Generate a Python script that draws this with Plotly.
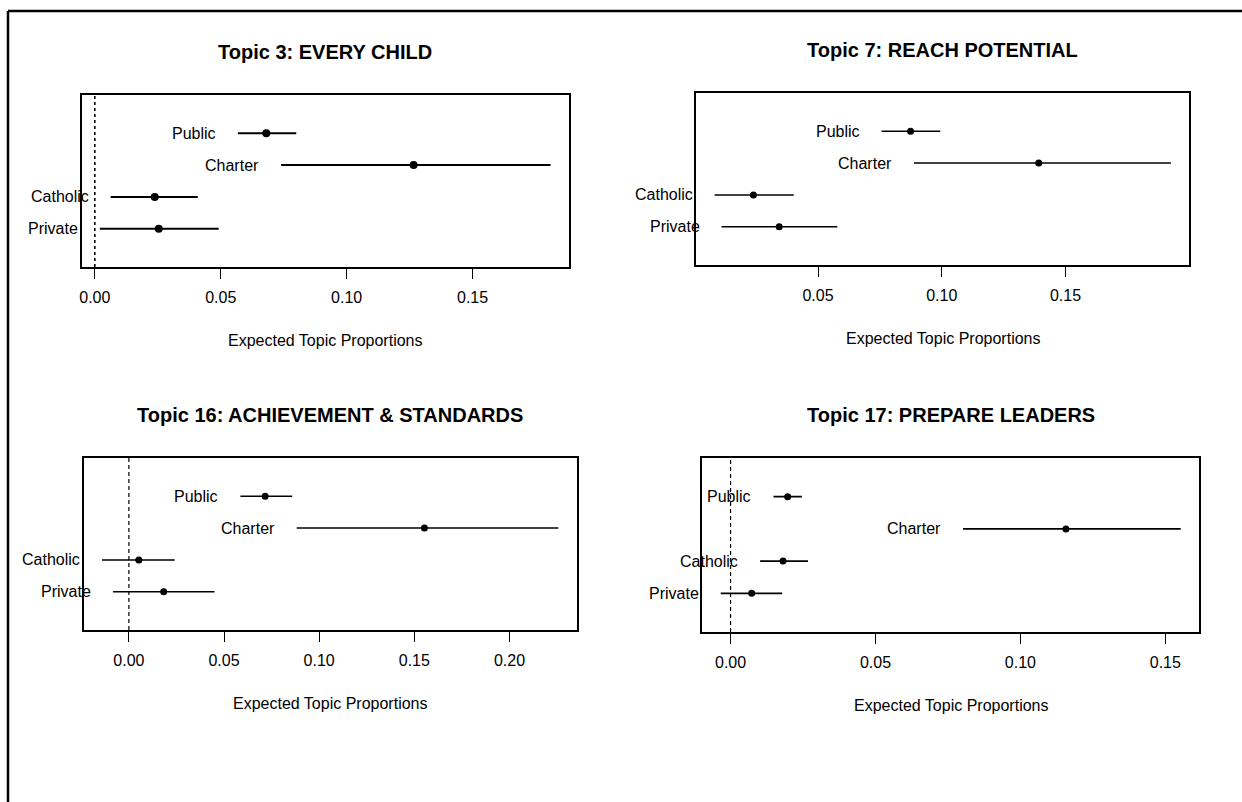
import numpy as np
import plotly.graph_objects as go

W, H = 1242, 802

categories = ["Public", "Charter", "Catholic", "Private"]
rows = [4, 3, 2, 1]

titles = ["Topic 3: EVERY CHILD", "Topic 7: REACH POTENTIAL",
          "Topic 16: ACHIEVEMENT & STANDARDS", "Topic 17: PREPARE LEADERS"]

t3_point = [0.0681, 0.1266, 0.0238, 0.0254]
t3_lower = [0.0568, 0.0740, 0.0063, 0.0020]
t3_upper = [0.0800, 0.1810, 0.0409, 0.0492]

t7_point = [0.0874, 0.1392, 0.0239, 0.0343]
t7_lower = [0.0757, 0.0888, 0.0082, 0.0110]
t7_upper = [0.0994, 0.1926, 0.0402, 0.0578]

t16_point = [0.0716, 0.1553, 0.0052, 0.0183]
t16_lower = [0.0586, 0.0882, -0.0141, -0.0084]
t16_upper = [0.0858, 0.2257, 0.0241, 0.0450]

t17_point = [0.0197, 0.1157, 0.0181, 0.0073]
t17_lower = [0.0148, 0.0802, 0.0102, -0.0034]
t17_upper = [0.0246, 0.1553, 0.0267, 0.0178]

xlabel = "Expected Topic Proportions"

panels = [
    dict(point=t3_point, lower=t3_lower, upper=t3_upper, box=(79, 567, 95, 267), lw=2.0, ms=8, dash="3px,3px", dw=1.6),
    dict(point=t7_point, lower=t7_lower, upper=t7_upper, box=(695, 1189, 93, 265), lw=1.4, ms=7, dash="3px,3px", dw=1.2),
    dict(point=t16_point, lower=t16_lower, upper=t16_upper, box=(81, 575, 458, 630), lw=1.4, ms=7, dash="4px,3px", dw=1.2),
    dict(point=t17_point, lower=t17_lower, upper=t17_upper, box=(701, 1199, 458, 632), lw=1.8, ms=7, dash="4px,3px", dw=1.2),
]

FONT = "Liberation Sans, Arial, Helvetica, sans-serif"
fig = go.Figure()
layout = dict(width=W, height=H, margin=dict(l=0, r=0, t=0, b=0),
              paper_bgcolor="white", plot_bgcolor="white", showlegend=False,
              font=dict(family=FONT, size=16, color="black"))
annotations = []
shapes = []

for i, p in enumerate(panels):
    k = "" if i == 0 else str(i + 1)
    xa, ya = "x" + k, "y" + k
    x0, x1, y0, y1 = p["box"]
    lo, hi = min(p["lower"]), max(p["upper"])
    pad = 0.04 * (hi - lo)
    xr = [lo - pad, hi + pad]
    ticks = [round(t, 2) for t in np.arange(0, 0.30, 0.05) if xr[0] <= t <= xr[1]]

    # error bars
    ex, ey = [], []
    for l, u, r in zip(p["lower"], p["upper"], rows):
        ex += [l, u, None]
        ey += [r, r, None]
    fig.add_trace(go.Scatter(x=ex, y=ey, mode="lines", xaxis=xa, yaxis=ya,
                             line=dict(color="black", width=p["lw"]), hoverinfo="skip"))
    fig.add_trace(go.Scatter(x=p["point"], y=rows, mode="markers", xaxis=xa, yaxis=ya,
                             marker=dict(color="black", size=p["ms"]), hoverinfo="skip"))

    layout["xaxis" + k] = dict(domain=[x0 / W, x1 / W], anchor=ya, range=xr,
                               showline=True, mirror=True, linecolor="black", linewidth=2,
                               showgrid=False, zeroline=False, ticks="outside", ticklen=10,
                               tickwidth=1.3, tickcolor="black", tickvals=ticks,
                               tickformat=".2f", ticklabelstandoff=5,
                               tickfont=dict(size=16, family=FONT))
    layout["yaxis" + k] = dict(domain=[1 - y1 / H, 1 - y0 / H], anchor=xa, range=[-0.2, 5.2],
                               showline=True, mirror=True, linecolor="black", linewidth=2,
                               showgrid=False, zeroline=False, showticklabels=False, ticks="")

    # dashed zero line
    if xr[0] < 0 < xr[1]:
        shapes.append(dict(type="line", xref=xa, yref=ya + " domain", x0=0, x1=0, y0=0, y1=1,
                           line=dict(color="black", width=p["dw"], dash=p["dash"])))

    # category labels
    for c, l, r in zip(categories, p["lower"], rows):
        annotations.append(dict(x=l, y=r, xref=xa, yref=ya, text=c, showarrow=False,
                                xanchor="right", yanchor="middle", xshift=-20,
                                font=dict(size=16, family=FONT)))
    # title
    annotations.append(dict(x=0.5, y=1, xref=xa + " domain", yref=ya + " domain",
                            text="<b>" + titles[i] + "</b>", showarrow=False,
                            xanchor="center", yanchor="middle", yshift=43,
                            font=dict(size=20, family=FONT)))
    # x label
    annotations.append(dict(x=0.5, y=0, xref=xa + " domain", yref=ya + " domain",
                            text=xlabel, showarrow=False, xanchor="center",
                            yanchor="middle", yshift=-73, font=dict(size=16, family=FONT)))

# outer frame (top and left edges)
shapes.append(dict(type="line", xref="paper", yref="paper", x0=5 / W, x1=1, y0=1 - 11 / H, y1=1 - 11 / H,
                   line=dict(color="black", width=2.5)))
shapes.append(dict(type="line", xref="paper", yref="paper", x0=5 / W, x1=5 / W, y0=0, y1=1 - 11 / H,
                   line=dict(color="black", width=2.5)))

layout["annotations"] = annotations
layout["shapes"] = shapes
fig.update_layout(**layout)
fig.write_html("out.html", config={"displayModeBar": False},
               post_script="document.body.style.margin='0px';document.body.style.padding='0px';")
